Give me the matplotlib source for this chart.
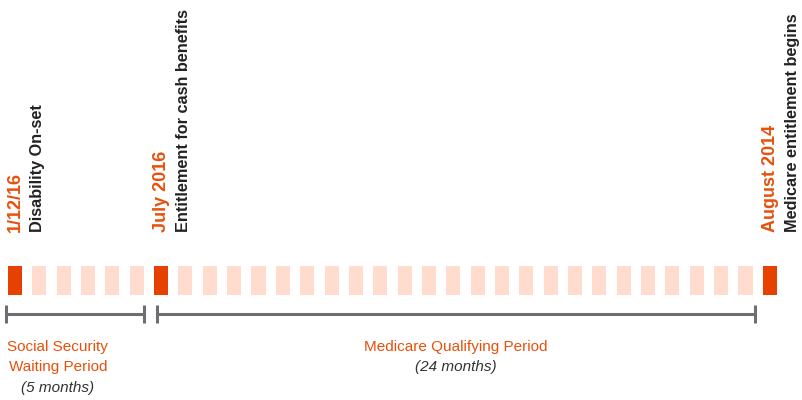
import numpy as np
import matplotlib
matplotlib.use('Agg')
import matplotlib.pyplot as plt

# timeline data
n_months = 32
key_months = [0, 6, 31]
key_dates = ['1/12/16', 'July 2016', 'August 2014']
key_events = ['Disability On-set', 'Entitlement for cash benefits', 'Medicare entitlement begins']
period_start = [0, 6]
period_end = [6, 31]
period_names = [['Social Security', 'Waiting Period'], ['Medicare Qualifying Period']]
period_lengths = ['(5 months)', '(24 months)']

dark = '#e64100'
light = '#ffdccd'
orange_txt = '#e8500a'
grey = '#6d6e71'

plt.rcParams['font.family'] = ['Liberation Sans', 'DejaVu Sans']

fig = plt.figure(figsize=(8.03, 4.0), dpi=100)
ax = fig.add_axes([0, 0, 1, 1])
step = 24.35
ax.set_xlim(-8 / step, (803 - 8) / step)
ax.set_ylim(400, 0)
ax.axis('off')

w = 0.575
months = np.arange(n_months)
cols = [dark if m in key_months else light for m in months]
ax.bar(months, 29, bottom=266, width=w, align='edge', color=cols, linewidth=0)

# labels over key months
for m, d, e in zip(key_months, key_dates, key_events):
    xc = m + w / 2
    ax.text(xc + 0.02, 232, d, rotation=90, ha='center', va='bottom',
            color=orange_txt, fontsize=13, fontweight='bold')
    ax.text(xc + 0.92, 232, e, rotation=90, ha='center', va='bottom',
            color='#222222', fontsize=11.7, fontweight='bold')

# period brackets
label_shift = [-0.7, 0.0]
for s, e, names, ln, sh in zip(period_start, period_end, period_names,
                               period_lengths, label_shift):
    x0 = s - 0.08 if s == 0 else s + 0.12
    x1 = e - 1 + w + (0.0 if s == 0 else 0.1)
    ax.plot([x0, x1], [314, 314], color=grey, lw=2.2, solid_capstyle='butt')
    ax.plot([x0, x1], [314, 314], ls='none', marker='|', ms=13, mew=2.2, color=grey)
    xc = (x0 + x1) / 2 + sh
    y = 347
    for nm in names:
        ax.text(xc, y, nm, ha='center', va='center', color=orange_txt, fontsize=11)
        y += 20.5
    ax.text(xc, y, ln, ha='center', va='center', color='#333333', fontsize=11,
            style='italic')

fig.savefig('out.png', dpi=100)
